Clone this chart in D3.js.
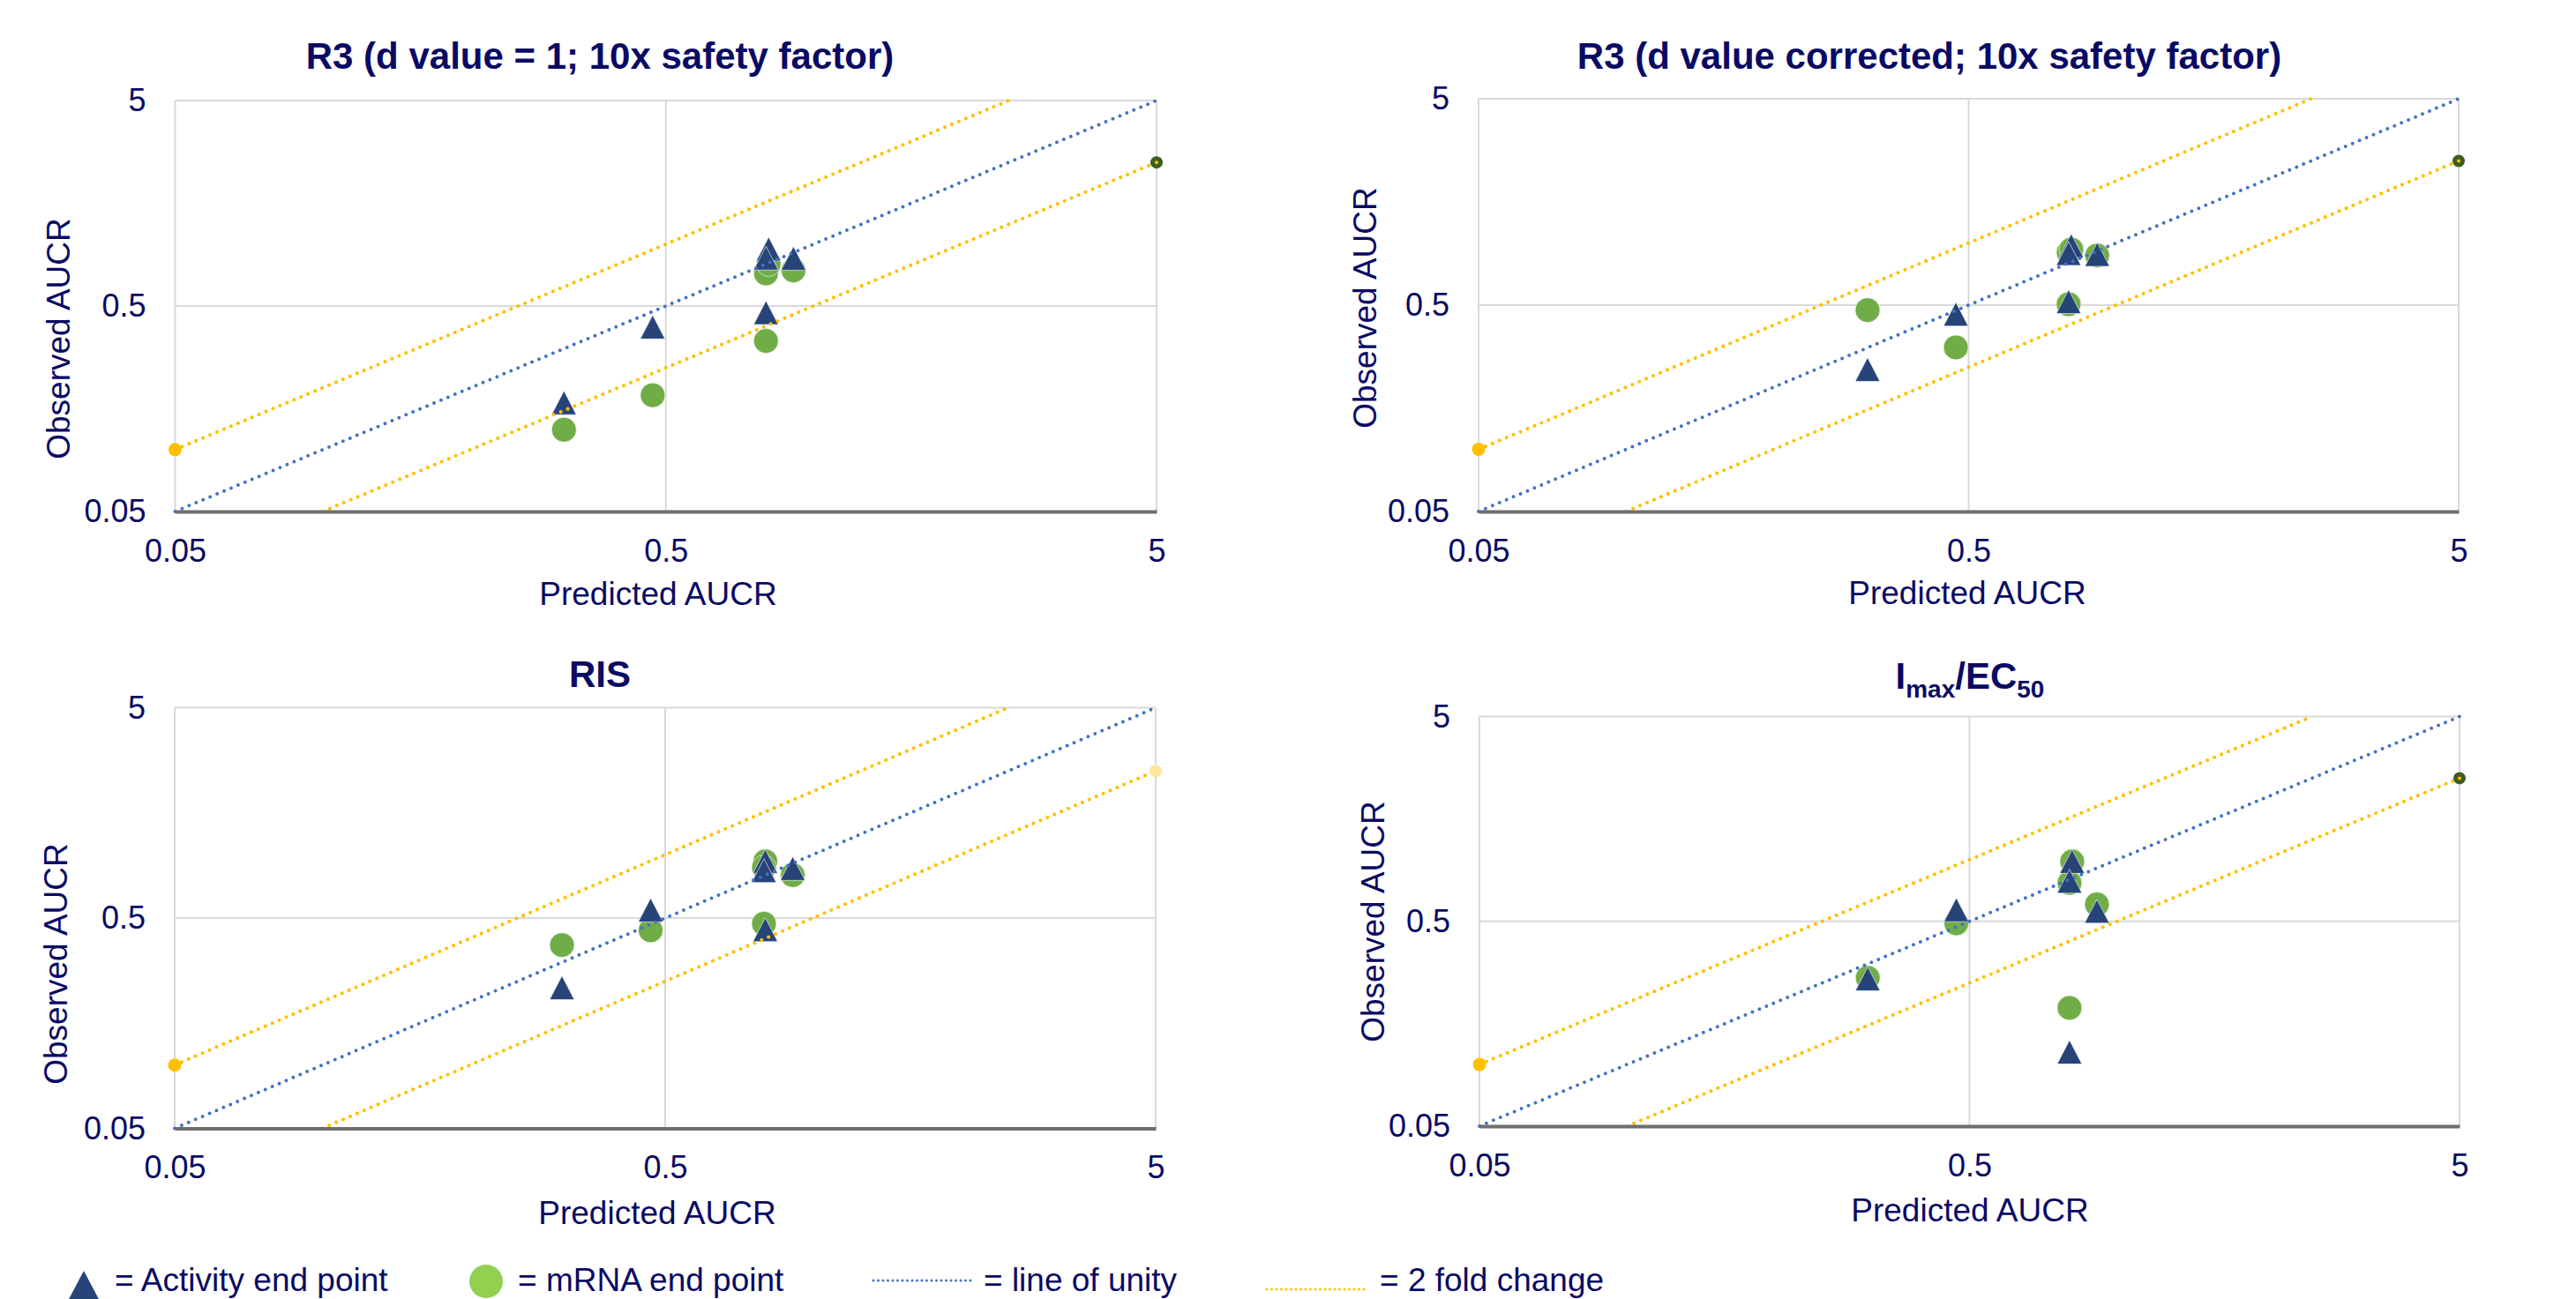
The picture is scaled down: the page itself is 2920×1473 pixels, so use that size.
<!DOCTYPE html>
<html>
<head>
<meta charset="utf-8">
<script src="https://cdn.jsdelivr.net/npm/d3@7"></script>
<style>
  html, body { margin: 0; padding: 0; background: #ffffff; }
  svg { display: block; font-family: "Liberation Sans", Arial, sans-serif; }
</style>
</head>
<body>
<script>
// ---------------- DATA ----------------
const panelTitles = ["R3 (d value = 1; 10x safety factor)", "R3 (d value corrected; 10x safety factor)", "RIS", "Imax/EC50"];
const xAxisTitle = "Predicted AUCR";
const yAxisTitle = "Observed AUCR";
const tickValues = [0.05, 0.5, 5];
const tickLabels = ["0.05", "0.5", "5"];

// [predicted AUCR, observed AUCR]
const activityR3d1 = [[0.31, 0.169], [0.47, 0.395], [0.80, 0.464], [0.81, 0.947], [0.80, 0.855], [0.91, 0.853]];
const mrnaR3d1     = [[0.31, 0.125], [0.47, 0.184], [0.80, 0.338], [0.80, 0.72], [0.81, 0.80], [0.91, 0.745]];

const activityR3corr = [[0.311, 0.244], [0.471, 0.452], [0.81, 0.97], [0.80, 0.89], [0.80, 0.52], [0.915, 0.88]];
const mrnaR3corr     = [[0.311, 0.473], [0.471, 0.312], [0.80, 0.90], [0.81, 0.93], [0.80, 0.505], [0.915, 0.87]];

const activityRIS = [[0.308, 0.233], [0.467, 0.546], [0.80, 0.93], [0.795, 0.84], [0.80, 0.44], [0.91, 0.86]];
const mrnaRIS     = [[0.308, 0.372], [0.467, 0.437], [0.80, 0.93], [0.795, 0.87], [0.795, 0.47], [0.91, 0.80]];

const activityImax = [[0.31, 0.262], [0.47, 0.569], [0.81, 0.98], [0.80, 0.785], [0.91, 0.56], [0.80, 0.115]];
const mrnaImax     = [[0.31, 0.265], [0.47, 0.489], [0.81, 0.98], [0.80, 0.77], [0.91, 0.605], [0.80, 0.189]];

const unityLine = [[0.05, 0.05], [5, 5]];
const upperFoldLine = [[0.05, 0.1], [2.5, 5]];
const lowerFoldLine = [[0.1, 0.05], [5, 2.5]];

const legendLabels = ["= Activity end point", "= mRNA end point", "= line of unity", "= 2 fold change"];

// ---------------- LAYOUT / STYLE ----------------
const activitySets = [activityR3d1, activityR3corr, activityRIS, activityImax];
const mrnaSets = [mrnaR3d1, mrnaR3corr, mrnaRIS, mrnaImax];

const layout = [
  {left:198.5, right:1311, top:114, bottom:580, titleX:680, titleY:78, xtX:746, xtY:686, ytX:79, ytY:384, endFill:"#3B5E1F"},
  {left:1676, right:2787, top:112, bottom:580, titleX:2187, titleY:78, xtX:2230, xtY:685, ytX:1560, ytY:349, endFill:"#3B5E1F"},
  {left:198, right:1310, top:802.5, bottom:1279.5, titleX:680, titleY:779, xtX:745, xtY:1388, ytX:76, ytY:1093, endFill:"#FFE699"},
  {left:1677, right:2788, top:812.5, bottom:1277, titleX:2233, titleY:781, xtX:2233, xtY:1385, ytX:1569, ytY:1045, endFill:"#3B5E1F"}
];

const NAVY = "#0A0A64";
const TRI = "#264478";
const GREEN = "#70AD47";
const BLUE = "#4472C4";
const GOLD = "#FFC000";
const GRID = "#D9D9D9";

const W = 2920, H = 1473;
const svg = d3.select("body").append("svg").attr("width", W).attr("height", H);
svg.append("rect").attr("width", W).attr("height", H).attr("fill", "#fff");

function triPath(w, h) {
  return `M0,${-h/2}L${w/2},${h/2}L${-w/2},${h/2}Z`;
}

layout.forEach((L, i) => {
  const x = d3.scaleLog().domain([0.05, 5]).range([L.left, L.right]);
  const y = d3.scaleLog().domain([0.05, 5]).range([L.bottom, L.top]);
  const g = svg.append("g");

  // gridlines
  g.selectAll("line.vg").data(tickValues).join("line")
    .attr("x1", d => x(d)).attr("x2", d => x(d))
    .attr("y1", y(5)).attr("y2", y(0.05))
    .attr("stroke", GRID).attr("stroke-width", 2);
  g.selectAll("line.hg").data(tickValues.slice(1)).join("line")
    .attr("class", "hg")
    .attr("x1", x(0.05)).attr("x2", x(5))
    .attr("y1", d => y(d)).attr("y2", d => y(d))
    .attr("stroke", GRID).attr("stroke-width", 2);

  // markers
  g.selectAll("circle.m").data(mrnaSets[i]).join("circle")
    .attr("class", "m")
    .attr("cx", d => x(d[0])).attr("cy", d => y(d[1])).attr("r", 14)
    .attr("fill", GREEN).attr("stroke", "#ffffff").attr("stroke-opacity", 0.6).attr("stroke-width", 1);
  g.selectAll("path.t").data(activitySets[i]).join("path")
    .attr("class", "t")
    .attr("d", triPath(28, 27))
    .attr("transform", d => `translate(${x(d[0])},${y(d[1])})`)
    .attr("fill", TRI).attr("stroke", "#ffffff").attr("stroke-opacity", 0.6).attr("stroke-width", 1);

  // reference lines
  const line = d3.line().x(d => x(d[0])).y(d => y(d[1]));
  g.append("path").datum(unityLine).attr("d", line)
    .attr("fill", "none").attr("stroke", BLUE).attr("stroke-width", 4)
    .attr("stroke-linecap", "round").attr("stroke-dasharray", "0 8.6");
  g.append("path").datum(upperFoldLine).attr("d", line)
    .attr("fill", "none").attr("stroke", GOLD).attr("stroke-width", 4.2)
    .attr("stroke-linecap", "round").attr("stroke-dasharray", "0 8.6");
  g.append("path").datum(lowerFoldLine).attr("d", line)
    .attr("fill", "none").attr("stroke", GOLD).attr("stroke-width", 4.2)
    .attr("stroke-linecap", "round").attr("stroke-dasharray", "0 8.6");

  // line end markers
  const startPt = upperFoldLine[0];
  g.append("circle").attr("cx", x(startPt[0])).attr("cy", y(startPt[1])).attr("r", 7.5).attr("fill", GOLD);
  const endPt = lowerFoldLine[1];
  g.append("circle").attr("cx", x(endPt[0])).attr("cy", y(endPt[1])).attr("r", 7).attr("fill", L.endFill);
  if (L.endFill !== "#FFE699") {
    g.append("circle").attr("cx", x(endPt[0])).attr("cy", y(endPt[1])).attr("r", 2).attr("fill", GOLD);
  }

  // axes
  const xAxis = d3.axisBottom(x).tickValues(tickValues).tickFormat((d, k) => tickLabels[k])
    .tickSize(0).tickSizeOuter(0).tickPadding(31);
  const ax = g.append("g").attr("transform", `translate(0,${y(0.05)})`).call(xAxis);
  ax.select(".domain").attr("stroke", "#6E6E6E").attr("stroke-width", 4);
  ax.selectAll("text").attr("fill", NAVY).style("font-size", "36px").style("font-family", "'Liberation Sans', Arial, sans-serif");

  const yAxis = d3.axisLeft(y).tickValues(tickValues).tickFormat((d, k) => tickLabels[k])
    .tickSize(0).tickSizeOuter(0).tickPadding(33);
  const ay = g.append("g").attr("transform", `translate(${x(0.05)},0)`).call(yAxis);
  ay.select(".domain").remove();
  ay.selectAll("text").attr("fill", NAVY).style("font-size", "36px").style("font-family", "'Liberation Sans', Arial, sans-serif");

  // axis titles
  g.append("text").attr("x", L.xtX).attr("y", L.xtY).attr("text-anchor", "middle")
    .attr("fill", NAVY).style("font-size", "37px").text(xAxisTitle);
  g.append("text").attr("transform", `translate(${L.ytX},${L.ytY}) rotate(-90)`).attr("text-anchor", "middle")
    .attr("fill", NAVY).style("font-size", "37px").text(yAxisTitle);

  // panel title
  const t = g.append("text").attr("x", L.titleX).attr("y", L.titleY).attr("text-anchor", "middle")
    .attr("fill", NAVY).style("font-size", "42px").style("font-weight", "bold");
  if (panelTitles[i] === "Imax/EC50") {
    t.append("tspan").text("I");
    t.append("tspan").attr("dy", 10).style("font-size", "28px").text("max");
    t.append("tspan").attr("dy", -10).text("/EC");
    t.append("tspan").attr("dy", 10).style("font-size", "28px").text("50");
  } else {
    t.text(panelTitles[i]);
  }
});

// ---------------- LEGEND ----------------
const lg = svg.append("g");
lg.append("path").attr("d", triPath(38, 36)).attr("transform", "translate(95,1459)").attr("fill", TRI);
lg.append("circle").attr("cx", 551).attr("cy", 1453).attr("r", 19).attr("fill", "#92D050");
lg.append("line").attr("x1", 990).attr("x2", 1102).attr("y1", 1452).attr("y2", 1452)
  .attr("stroke", BLUE).attr("stroke-width", 3).attr("stroke-linecap", "round").attr("stroke-dasharray", "0 5.5");
lg.append("line").attr("x1", 1436).attr("x2", 1550).attr("y1", 1462).attr("y2", 1462)
  .attr("stroke", GOLD).attr("stroke-width", 3).attr("stroke-linecap", "round").attr("stroke-dasharray", "0 5.5");
const legendX = [130, 587, 1115, 1564];
lg.selectAll("text").data(legendLabels).join("text")
  .attr("x", (d, k) => legendX[k]).attr("y", 1464)
  .attr("fill", NAVY).style("font-size", "37px").text(d => d);
</script>
</body>
</html>
